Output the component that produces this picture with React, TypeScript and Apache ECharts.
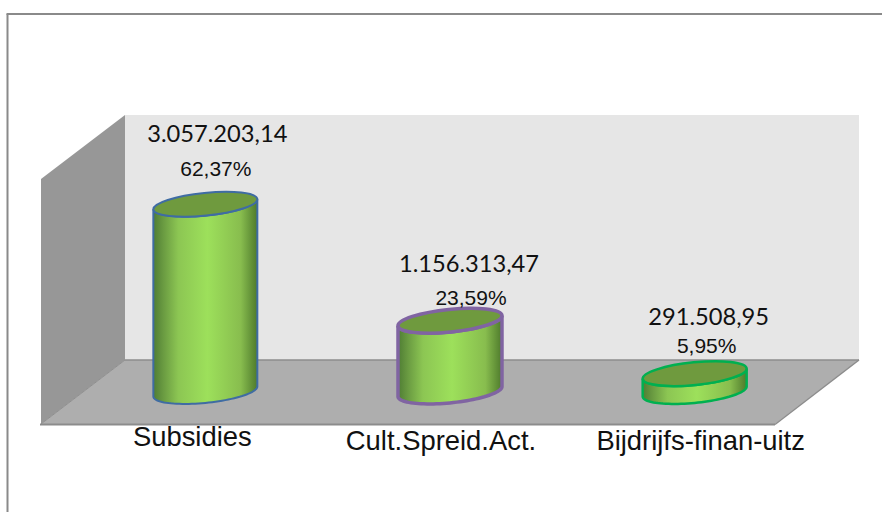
import React, { useEffect, useRef } from "react";
import * as echarts from "echarts";

const categories = ["Subsidies", "Cult.Spreid.Act.", "Bijdrijfs-finan-uitz"];
const values = [3057203.14, 1156313.47, 291508.95];
const valueLabels = ["3.057.203,14", "1.156.313,47", "291.508,95"];
const percentLabels = ["62,37%", "23,59%", "5,95%"];

const strokeColors = ["#3f6ca3", "#8064a2", "#00b050"];
const strokeWidths = [2, 3.5, 2.5];
// label offsets from the cylinder's top centre / base centre
const valueOffsets = [[12, -71.5], [19, -58], [14, -57.7]];
const percentOffsets = [[10.5, -35.5], [21, -23], [12, -28]];
const categoryOffsets = [[-13, 44.5], [-9, 49], [6, 49]];

const TILT = (5.77 * Math.PI) / 180;
const HALF_WIDTH_RATIO = 0.2125;
const MINOR_RATIO = 0.218;

function renderCylinder(params: any, api: any) {
  const i = api.value(0);
  const [cx, topY] = api.coord([i, api.value(1)]);
  const [, baseY] = api.coord([i, 0]);
  const halfW = (api.size([1, 0])[0] as number) * HALF_WIDTH_RATIO;
  const b = halfW * MINOR_RATIO;
  const a = halfW * 1.005;
  const c = Math.cos(TILT);
  const s = Math.sin(TILT);
  const t0 = Math.atan((b / a) * Math.tan(TILT));
  const pt = (t: number, y0: number) => [
    cx + a * Math.cos(t) * c + b * Math.sin(t) * s,
    y0 - a * Math.cos(t) * s + b * Math.sin(t) * c,
  ];
  const pts: number[][] = [];
  const N = 48;
  for (let k = 0; k <= N; k++) pts.push(pt(t0 + (Math.PI * k) / N, baseY));
  for (let k = N; k >= 0; k--) pts.push(pt(t0 + (Math.PI * k) / N, topY));
  const stroke = strokeColors[i];
  const lineWidth = strokeWidths[i];
  const txt = (text: string, x: number, y: number, fontFamily: string, fontSize: number) => ({
    type: "text",
    style: {
      text, x, y, fontFamily, fontSize, fill: "#111",
      align: "center", textAlign: "center",
      verticalAlign: "middle", textVerticalAlign: "middle",
    },
  });
  return {
    type: "group",
    children: [
      {
        type: "polygon",
        shape: { points: pts },
        style: {
          fill: new echarts.graphic.LinearGradient(0, 0, 1, 0, [
            { offset: 0, color: "#4f7d34" },
            { offset: 0.1, color: "#6b9c42" },
            { offset: 0.24, color: "#8cc653" },
            { offset: 0.52, color: "#9de05b" },
            { offset: 0.84, color: "#88bd4e" },
            { offset: 1, color: "#4e7a2c" },
          ]),
          stroke, lineWidth,
        },
      },
      {
        type: "ellipse",
        x: cx, y: topY, rotation: TILT,
        shape: { cx: 0, cy: 0, rx: a, ry: b },
        style: { fill: "#6f9a3e", stroke, lineWidth },
      },
      txt(valueLabels[i], cx + valueOffsets[i][0], topY + valueOffsets[i][1], "Lato", 23.7),
      txt(percentLabels[i], cx + percentOffsets[i][0], topY + percentOffsets[i][1], "Liberation Sans", 21),
      txt(categories[i], cx + categoryOffsets[i][0], baseY + categoryOffsets[i][1], "Liberation Sans", 27.4),
    ],
  };
}

export default function App() {
  const ref = useRef<HTMLDivElement>(null);
  useEffect(() => {
    document.body.style.margin = "0";
    const chart = echarts.init(ref.current!, null, { renderer: "svg" });
    const edge = "#8c8c8c";
    chart.setOption({
      animation: false,
      backgroundColor: "#fff",
      grid: { left: 83, right: 65, top: 146.5, bottom: 120.5 },
      xAxis: {
        type: "category", data: categories,
        axisLine: { show: false }, axisTick: { show: false }, axisLabel: { show: false },
      },
      yAxis: { type: "value", min: 0, max: 4000000, show: false, splitLine: { show: false } },
      graphic: [
        { type: "polygon", z: 0, shape: { points: [[125, 115], [859, 115], [859, 360], [125, 360]] }, style: { fill: "#e6e6e6" } },
        { type: "polygon", z: 0, shape: { points: [[41, 179], [125, 115], [125, 360], [41, 424]] }, style: { fill: "#979797" } },
        { type: "polygon", z: 0, shape: { points: [[41, 424], [125, 360], [859, 360], [775, 424]] }, style: { fill: "#aeaeae" } },
        { type: "line", z: 0, shape: { x1: 125, y1: 360, x2: 859, y2: 360 }, style: { stroke: edge, lineWidth: 1.5 } },
        { type: "line", z: 0, shape: { x1: 41, y1: 424, x2: 125, y2: 360 }, style: { stroke: "#8f8f8f", lineWidth: 1 } },
        { type: "line", z: 0, shape: { x1: 40, y1: 424.5, x2: 775, y2: 424.5 }, style: { stroke: edge, lineWidth: 2 } },
        { type: "line", z: 0, shape: { x1: 775, y1: 424.5, x2: 859, y2: 360 }, style: { stroke: edge, lineWidth: 1.5 } },
        { type: "line", z: 0, shape: { x1: 7.5, y1: 14, x2: 7.5, y2: 512 }, style: { stroke: "#8a8a8a", lineWidth: 2 } },
        { type: "line", z: 0, shape: { x1: 6.5, y1: 14, x2: 882, y2: 14 }, style: { stroke: "#8a8a8a", lineWidth: 2 } },
      ],
      series: [
        {
          type: "custom",
          renderItem: renderCylinder,
          encode: { x: 0, y: 1 },
          data: values.map((v, i) => [i, v]),
          z: 5,
        },
      ],
    });
    return () => chart.dispose();
  }, []);
  return <div ref={ref} style={{ width: 882, height: 512 }} />;
}
